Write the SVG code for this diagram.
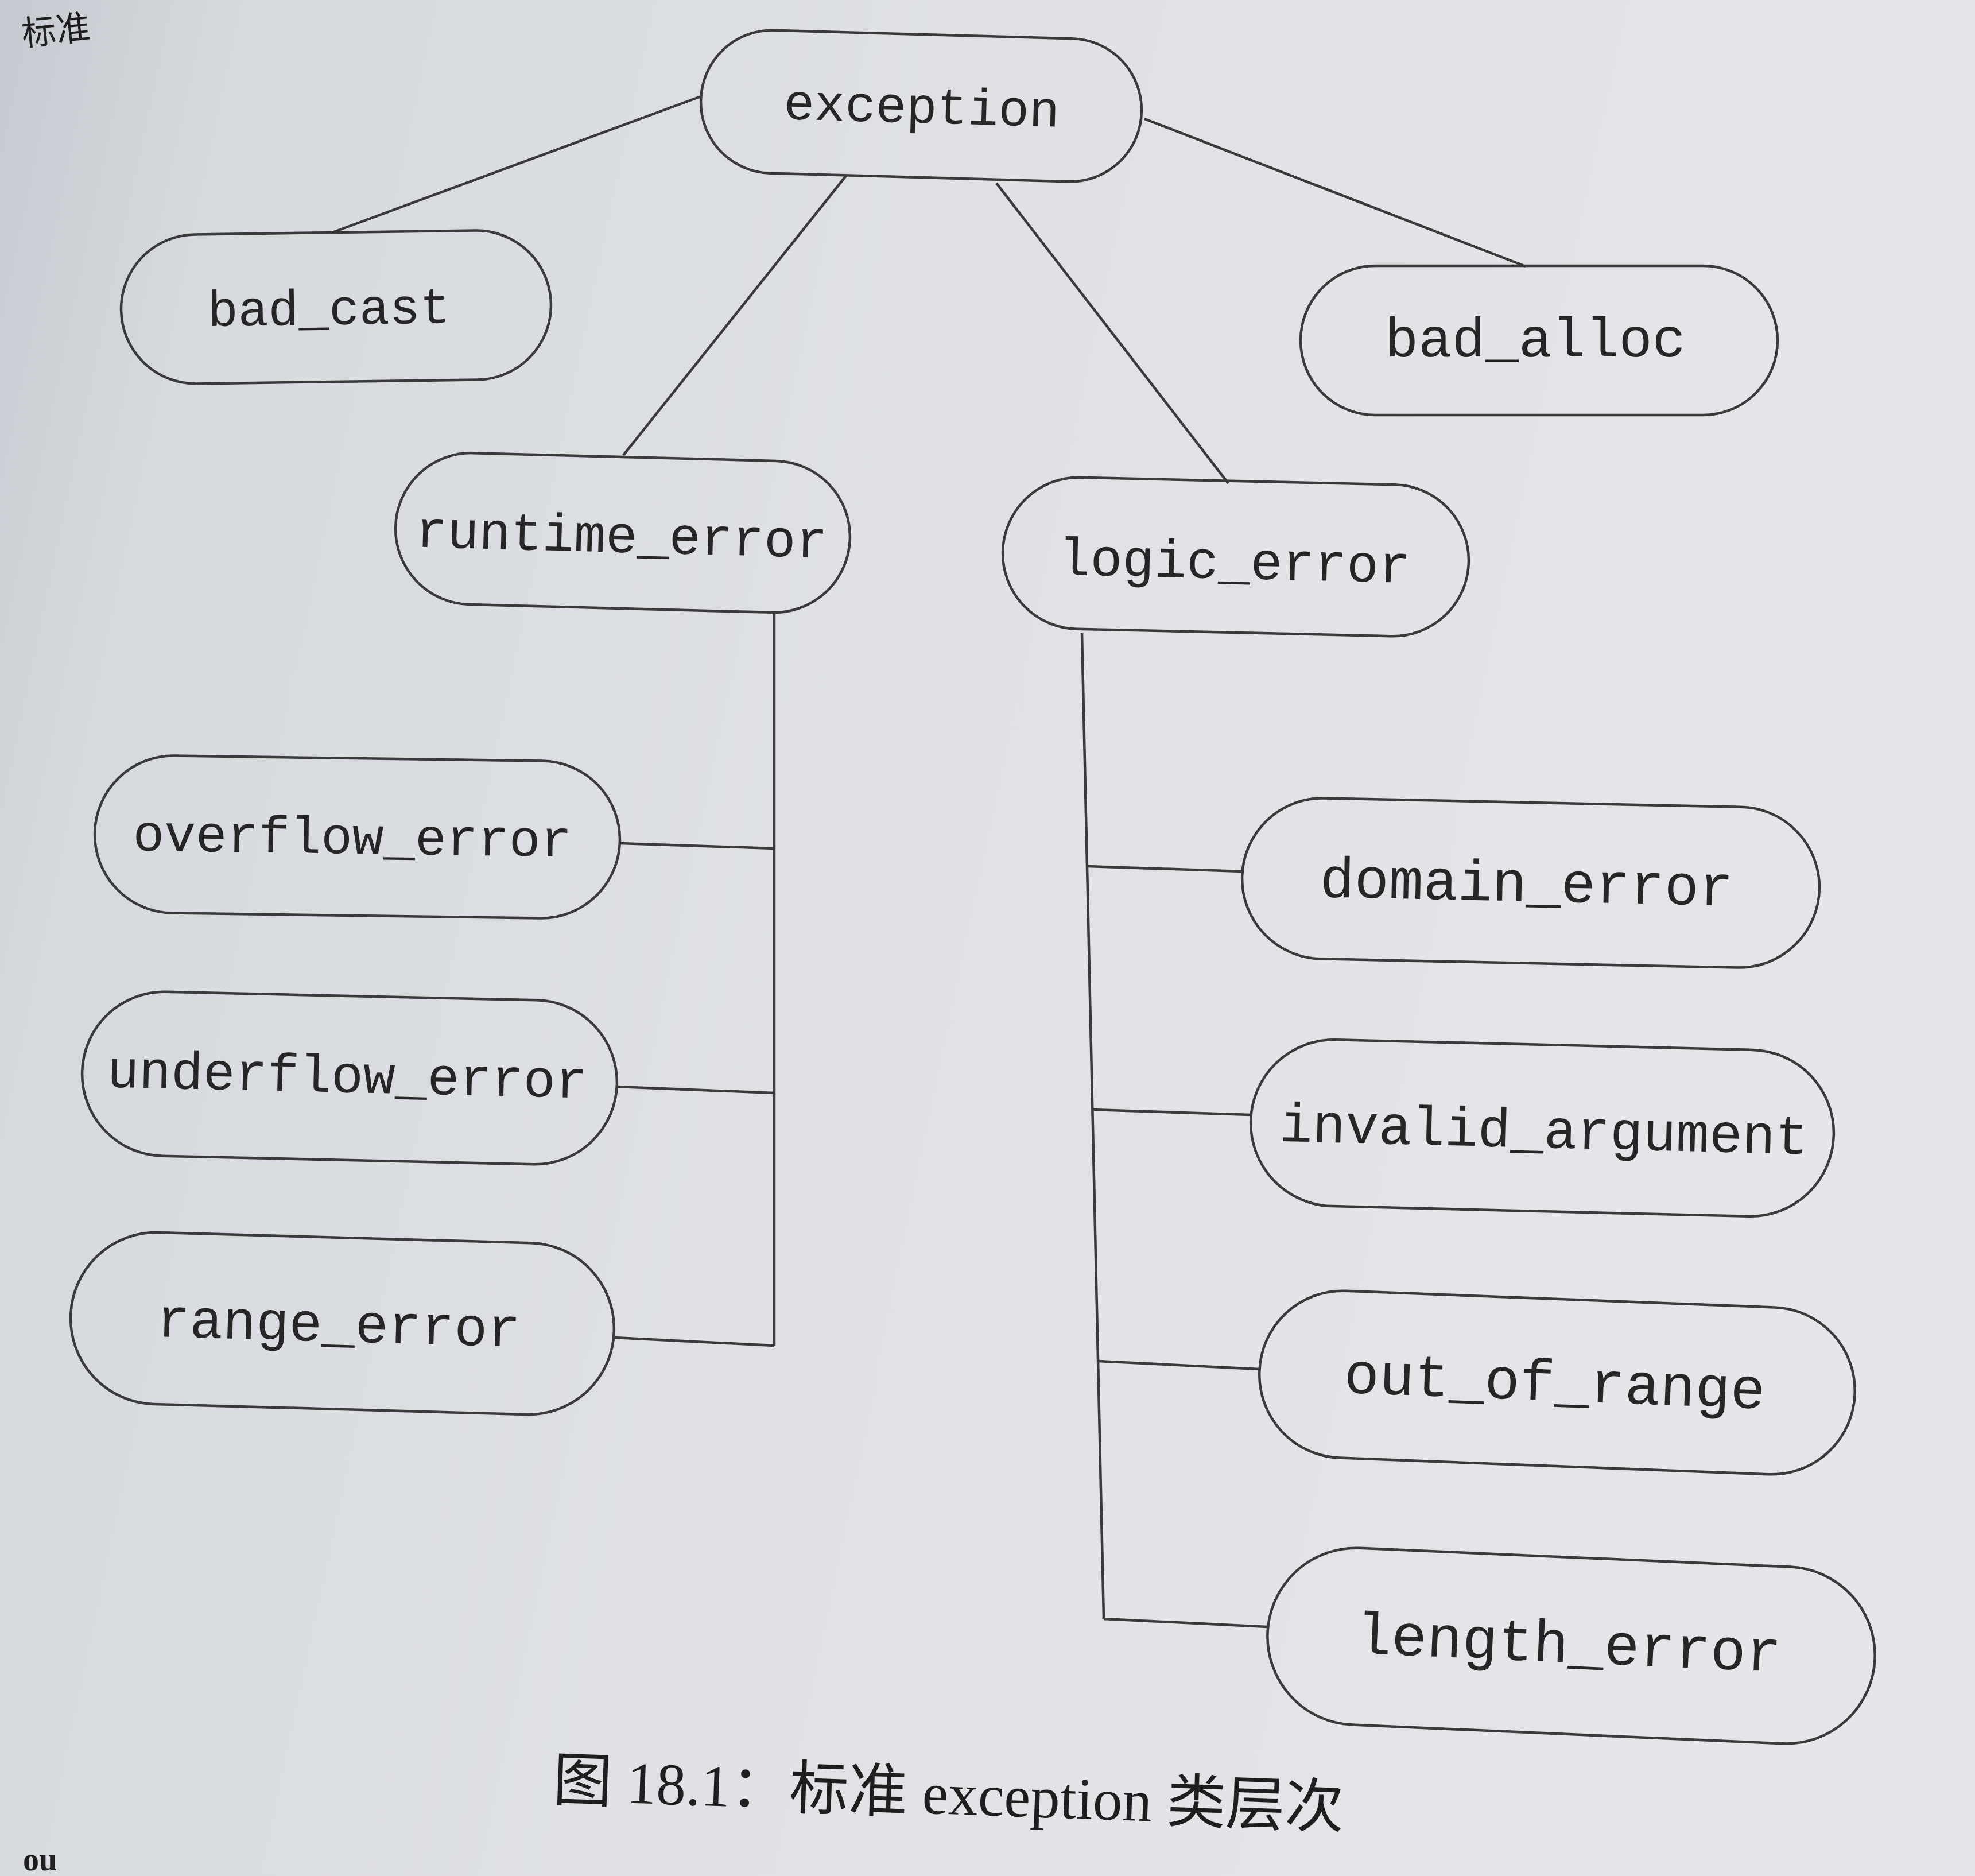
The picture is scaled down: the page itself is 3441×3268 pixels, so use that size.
<svg xmlns="http://www.w3.org/2000/svg" width="3441" height="3268" viewBox="0 0 3441 3268">
<defs>
<linearGradient id="bg" x1="0" y1="0" x2="1" y2="0.2">
<stop offset="0" stop-color="#c6cad0"/>
<stop offset="0.12" stop-color="#d6d9de"/>
<stop offset="0.5" stop-color="#dfe1e5"/>
<stop offset="1" stop-color="#e4e6e9"/>
</linearGradient>
<style>
.node{fill:none;stroke:#3a3a3a;stroke-width:4.5}
.lbl{font-family:"Liberation Mono","DejaVu Sans Mono",monospace;fill:#262626;text-anchor:middle}
.conn line,.conn polyline{stroke:#3a3a3a;stroke-width:4.5;fill:none}
.cap{font-family:"Liberation Serif","Noto Sans CJK SC",serif;fill:#1e1e1e}
</style>
</defs>
<rect x="0" y="0" width="3441" height="3268" fill="url(#bg)"/>
<text class="cap" x="40" y="80" font-size="60" transform="rotate(-6 40 80)">标准</text>
<text class="cap" x="40" y="3258" font-size="56" font-weight="bold">ou</text>
<g class="conn" id="connectors">
<line x1="1221" y1="168" x2="579" y2="405"/>
<line x1="1994" y1="207" x2="2658" y2="464"/>
<line x1="1475" y1="305" x2="1086" y2="793"/>
<line x1="1736" y1="319" x2="2140" y2="842"/>
<line x1="1349" y1="1069" x2="1349" y2="2344"/>
<line x1="1080" y1="1469" x2="1349" y2="1478"/>
<line x1="1075" y1="1893" x2="1349" y2="1904"/>
<polyline points="1070,2330 1349,2344"/>
<line x1="1885" y1="1103" x2="1923" y2="2820"/>
<line x1="1894" y1="1509" x2="2164" y2="1518"/>
<line x1="1903" y1="1933" x2="2179" y2="1942"/>
<line x1="1913" y1="2371" x2="2194" y2="2385"/>
<line x1="1923" y1="2820" x2="2208" y2="2834"/>
</g>
<g id="exception" transform="rotate(1.6 1605 184)">
<rect class="node" x="1221" y="60" width="768" height="249" rx="124" ry="124"/>
<text class="lbl" x="1606" y="214" font-size="89">exception</text>
</g>
<g id="bad_cast" transform="rotate(-0.8 585 535)">
<rect class="node" x="211" y="405" width="749" height="260" rx="130" ry="130"/>
<text class="lbl" x="573" y="565" font-size="88">bad_cast</text>
</g>
<g id="bad_alloc">
<rect class="node" x="2266" y="463" width="831" height="260" rx="130" ry="130"/>
<text class="lbl" x="2675" y="621" font-size="97">bad_alloc</text>
</g>
<g id="runtime_error" transform="rotate(1.5 1085 928)">
<rect class="node" x="689" y="796" width="792" height="264" rx="132" ry="132"/>
<text class="lbl" x="1083" y="962" font-size="92">runtime_error</text>
</g>
<g id="logic_error" transform="rotate(1.3 2153 970)">
<rect class="node" x="1747" y="838" width="812" height="264" rx="132" ry="132"/>
<text class="lbl" x="2151" y="1008" font-size="93">logic_error</text>
</g>
<g id="overflow_error" transform="rotate(0.8 622 1458)">
<rect class="node" x="165" y="1321" width="915" height="274" rx="137" ry="137"/>
<text class="lbl" x="614" y="1487" font-size="91">overflow_error</text>
</g>
<g id="underflow_error" transform="rotate(1.3 609 1878)">
<rect class="node" x="143" y="1735" width="932" height="286" rx="143" ry="143"/>
<text class="lbl" x="605" y="1903" font-size="93">underflow_error</text>
</g>
<g id="range_error" transform="rotate(1.6 596 2305)">
<rect class="node" x="123" y="2156" width="947" height="299" rx="149" ry="149"/>
<text class="lbl" x="590" y="2337" font-size="96">range_error</text>
</g>
<g id="domain_error" transform="rotate(1.2 2667 1538)">
<rect class="node" x="2164" y="1398" width="1006" height="280" rx="140" ry="140"/>
<text class="lbl" x="2660" y="1570" font-size="100">domain_error</text>
</g>
<g id="invalid_argument" transform="rotate(1.4 2687 1965)">
<rect class="node" x="2179" y="1820" width="1016" height="290" rx="145" ry="145"/>
<text class="lbl" x="2690" y="1999" font-size="96">invalid_argument</text>
</g>
<g id="out_of_range" transform="rotate(2.2 2713 2408)">
<rect class="node" x="2194" y="2263" width="1038" height="291" rx="145" ry="145"/>
<text class="lbl" x="2709" y="2440" font-size="102">out_of_range</text>
</g>
<g id="length_error" transform="rotate(2.5 2737 2867)">
<rect class="node" x="2208" y="2713" width="1059" height="308" rx="154" ry="154"/>
<text class="lbl" x="2733" y="2896" font-size="103">length_error</text>
</g>
<text class="cap" x="962" y="3160" font-size="103" transform="rotate(2 1650 3160)">图 18.1：标准 exception 类层次</text>
</svg>
